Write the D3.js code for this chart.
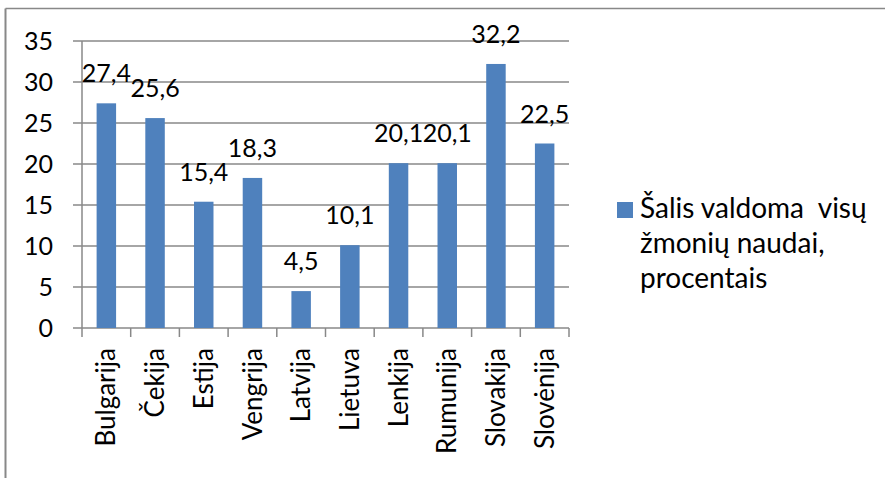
<!DOCTYPE html>
<html>
<head>
<meta charset="utf-8">
<script src="https://cdn.jsdelivr.net/npm/d3@7"></script>
<style>
  body { margin: 0; background: #fff; }
  svg { display: block; font-family: Lato, "Open Sans", sans-serif; }
</style>
</head>
<body>
<div id="chart"></div>
<script>
// data
var countries = ['Bulgarija', 'Čekija', 'Estija', 'Vengrija', 'Latvija',
                 'Lietuva', 'Lenkija', 'Rumunija', 'Slovakija', 'Slovėnija']
var values = [27.4, 25.6, 15.4, 18.3, 4.5, 10.1, 20.1, 20.1, 32.2, 22.5]
var yTicks = [0, 5, 10, 15, 20, 25, 30, 35]
var legendLines = ['Šalis valdoma  visų', 'žmonių naudai,', 'procentais']

var width = 885
var height = 478
var plot = { left: 82, right: 569, top: 41, bottom: 328 }
var barColor = '#4f81bd'
var gridColor = '#888'

var svg = d3.select('#chart')
    .append('svg')
    .attr('width', width)
    .attr('height', height)

// outer frame (only top and left edge show)
svg.append('line')
    .attr('x1', 5.5).attr('x2', width).attr('y1', 8.5).attr('y2', 8.5)
    .style('stroke', gridColor).style('stroke-width', 1.5)
svg.append('line')
    .attr('x1', 5.5).attr('x2', 5.5).attr('y1', 8.5).attr('y2', height)
    .style('stroke', gridColor).style('stroke-width', 2)

var x = d3.scaleBand()
    .domain(countries)
    .range([plot.left, plot.right])
    .paddingInner(0)
    .paddingOuter(0)

var y = d3.scaleLinear()
    .domain([0, 35])
    .range([plot.bottom, plot.top])

// gridlines
svg.append('g')
    .selectAll('line')
    .data(yTicks)
    .enter()
    .append('line')
    .attr('x1', plot.left - 9)
    .attr('x2', plot.right)
    .attr('y1', function (d) { return y(d) })
    .attr('y2', function (d) { return y(d) })
    .style('stroke', gridColor)
    .style('stroke-width', 1.5)

// y axis line
svg.append('line')
    .attr('x1', plot.left).attr('x2', plot.left)
    .attr('y1', plot.top).attr('y2', plot.bottom)
    .style('stroke', gridColor).style('stroke-width', 1.5)

// x tick marks at band edges
var edges = countries.map(function (c) { return x(c) }).concat([plot.right])
svg.append('g')
    .selectAll('line')
    .data(edges)
    .enter()
    .append('line')
    .attr('x1', function (d) { return d })
    .attr('x2', function (d) { return d })
    .attr('y1', plot.bottom)
    .attr('y2', plot.bottom + 9)
    .style('stroke', gridColor)
    .style('stroke-width', 1.5)

// y tick labels
svg.append('g')
    .selectAll('text')
    .data(yTicks)
    .enter()
    .append('text')
    .attr('x', 53)
    .attr('y', function (d) { return y(d) })
    .attr('dy', '0.35em')
    .attr('text-anchor', 'end')
    .style('font-size', '25px')
    .text(function (d) { return d })

// bars
var barW = x.bandwidth() * 0.4
svg.append('g')
    .selectAll('rect')
    .data(values)
    .enter()
    .append('rect')
    .attr('x', function (d, i) { return x(countries[i]) + (x.bandwidth() - barW) / 2 })
    .attr('y', function (d) { return y(d) })
    .attr('width', barW)
    .attr('height', function (d) { return y(0) - y(d) })
    .style('fill', barColor)

// value labels
svg.append('g')
    .selectAll('text')
    .data(values)
    .enter()
    .append('text')
    .attr('x', function (d, i) { return x(countries[i]) + x.bandwidth() / 2 })
    .attr('y', function (d) { return y(d) - 21 })
    .attr('text-anchor', 'middle')
    .style('font-size', '25px')
    .text(function (d) { return String(d).replace('.', ',') })

// category labels, rotated
svg.append('g')
    .selectAll('text')
    .data(countries)
    .enter()
    .append('text')
    .attr('transform', function (d) {
        return 'translate(' + (x(d) + x.bandwidth() / 2) + ',' + (plot.bottom + 20) + ') rotate(-90)'
    })
    .attr('dy', '0.35em')
    .attr('text-anchor', 'end')
    .style('font-size', '26px')
    .text(function (d) { return d })

// legend
svg.append('rect')
    .attr('x', 617).attr('y', 202)
    .attr('width', 16).attr('height', 16)
    .style('fill', barColor)

svg.append('g')
    .selectAll('text')
    .data(legendLines)
    .enter()
    .append('text')
    .attr('x', 640)
    .attr('y', function (d, i) { return 218 + i * 35 })
    .attr('xml:space', 'preserve')
    .style('white-space', 'pre')
    .style('font-size', '28px')
    .text(function (d) { return d })
</script>
</body>
</html>
